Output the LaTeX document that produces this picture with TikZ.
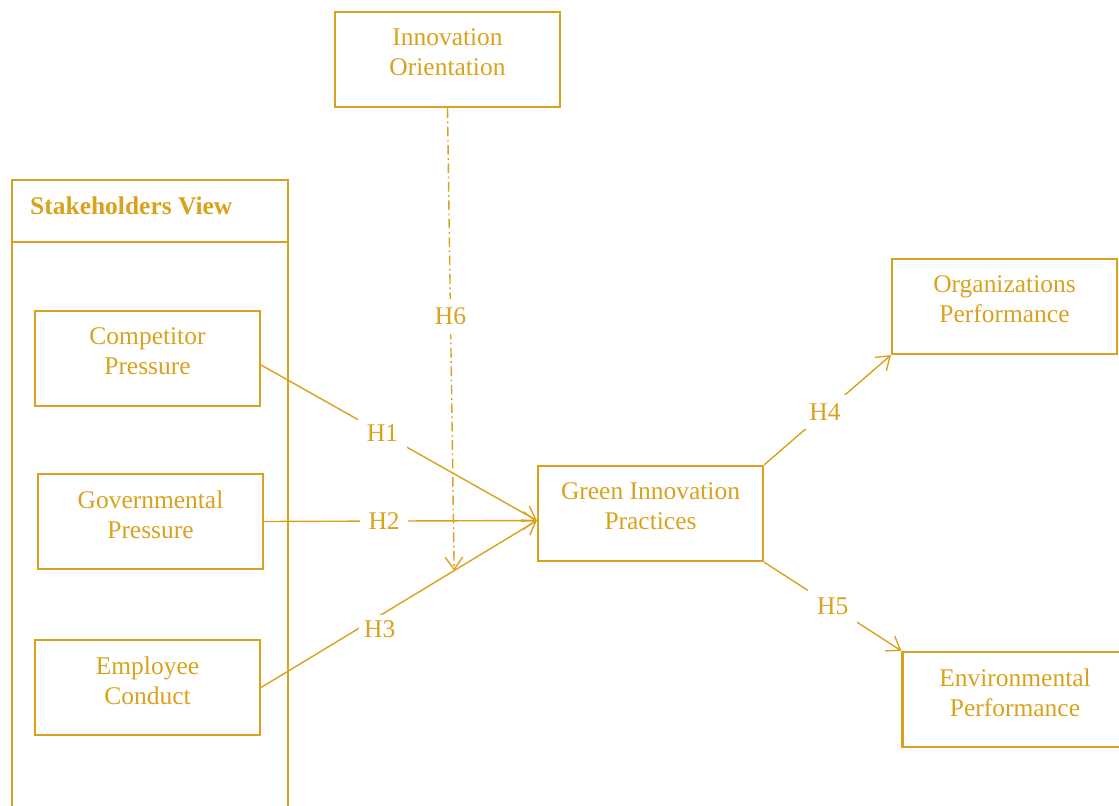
\documentclass[tikz,border=0pt]{standalone}
\usepackage{fontspec}
\setmainfont{Liberation Serif}
\usetikzlibrary{arrows.meta}
\definecolor{ocre}{RGB}{218,162,28}

\begin{document}
\begin{tikzpicture}[x=0.02cm, y=-0.02cm]
\tikzset{boite/.style={draw=ocre, line width=1.3pt, minimum width=4.5cm, minimum height=1.9cm, align=center, text=ocre, text depth=8pt, font=\fontsize{14.5}{17}\selectfont}}
\tikzset{etiq/.style={fill=white, text=ocre, inner sep=5pt, font=\fontsize{14.5}{17}\selectfont}}
\tikzset{fleche/.style={draw=ocre, line width=0.8pt, -{Straight Barb[length=7pt, width=10pt]}}}
\useasboundingbox (0,0) rectangle (1119,805);
\clip (0,0) rectangle (1119,805);
% stakeholders frame
\draw[ocre, line width=1.3pt] (12,830) -- (12,180) -- (288,180) -- (288,830);
\draw[ocre, line width=1.3pt] (12,242) -- (288,242);
\node[anchor=west, text=ocre, font=\fontsize{14.5}{17}\selectfont\bfseries] (sv) at (24,206) {Stakeholders View};
% boxes
\node[boite] (io) at (447.5,59.5) {Innovation\\Orientation};
\node[boite] (cp) at (147.5,358.5) {Competitor\\Pressure};
\node[boite] (gp) at (150.5,521.5) {Governmental\\Pressure};
\node[boite] (ec) at (147.5,687.5) {Employee\\Conduct};
\node[boite] (gip) at (650.5,513.5) {Green Innovation\\Practices};
\node[boite] (op) at (1004.5,306.5) {Organizations\\Performance};
\node[boite] (ep) at (1015,699.5) {Environmental\\Performance};
\coordinate (cible) at ([yshift=-0.14cm]gip.west);
% hypotheses
\draw[fleche] ([yshift=-0.13cm]cp.east) -- node[etiq, pos=0.44] {H1} (cible);
\draw[fleche] (gp.east) -- node[etiq, pos=0.44] {H2} (cible);
\draw[fleche] (ec.east) -- node[etiq, pos=0.43, yshift=-0.26cm, inner sep=3pt] {H3} coordinate[pos=0.7] (mod) (cible);
\draw[fleche] (gip.north east) -- node[etiq, pos=0.48] {H4} (op.south west);
\draw[fleche] (gip.south east) -- node[etiq, pos=0.5] {H5} (ep.north west);
\draw[fleche, dash pattern=on 5.5pt off 2pt on 1pt off 2pt] (io.south) -- node[etiq, pos=0.45] {H6} (mod);
\end{tikzpicture}
\end{document}
